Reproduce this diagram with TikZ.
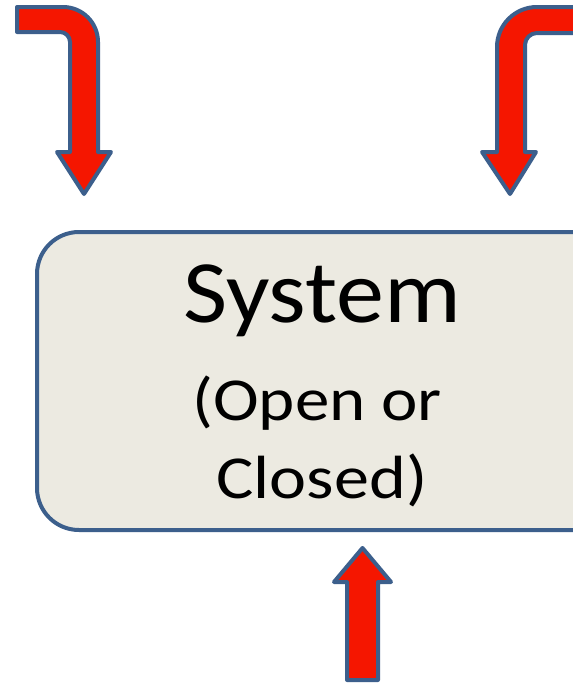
\documentclass[tikz,border=0pt]{standalone}
\usepackage{graphicx}
\usepackage{fontspec}
\setmainfont{Carlito}
\definecolor{arrred}{RGB}{245,22,0}
\definecolor{edgeblue}{RGB}{60,95,140}
\definecolor{boxfill}{RGB}{236,234,225}
\begin{document}
\begin{tikzpicture}[x=1pt,y=-1pt,
  arrowshape/.style={fill=arrred,draw=edgeblue,line width=4pt,line join=round},
  sysbox/.style={draw=edgeblue,fill=boxfill,line width=4pt,rounded corners=42pt,
    minimum width=583pt,minimum height=298pt,inner sep=0pt},
  bigtxt/.style={font=\fontsize{89}{89}\selectfont,anchor=base,inner sep=0pt},
  smalltxt/.style={font=\fontsize{61}{61}\selectfont,anchor=base,inner sep=0pt}]
\useasboundingbox (0,0) rectangle (573,683);
\clip (0,0) rectangle (573,683);
\fill[white] (0,0) rectangle (573,683);
% system box
\node[sysbox] (sys) at (328.5,381) {};
\node[bigtxt] (t1) at (322,322) {\scalebox{1.08}[1]{System}};
\node[smalltxt] (t2) at (317,420) {\scalebox{1.13}[1]{(Open or}};
\node[smalltxt] (t3) at (322,498) {\scalebox{1.15}[1]{Closed)}};
% left bent arrow
\draw[arrowshape] (17,7) -- (63,7) arc[start angle=-90,end angle=0,radius=35]
  -- (98,152) -- (111,152) -- (84,194) -- (57,152) -- (70,152) -- (70,42)
  arc[start angle=0,end angle=-90,radius=10] -- (17,32) -- cycle;
% right bent arrow
\draw[arrowshape] (600,7) -- (537,7) arc[start angle=-90,end angle=-180,radius=40]
  -- (497,152) -- (482,152) -- (510,194) -- (536,152) -- (525,152) -- (525,45)
  arc[start angle=180,end angle=270,radius=12] -- (600,33) -- cycle;
% bottom arrow
\coordinate (tipb) at (362.5,548);
\draw[arrowshape] (347,680) -- (347,582) -- (334,582) -- (tipb) -- (391,582)
  -- (378,582) -- (378,680) -- cycle;
\end{tikzpicture}
\end{document}
